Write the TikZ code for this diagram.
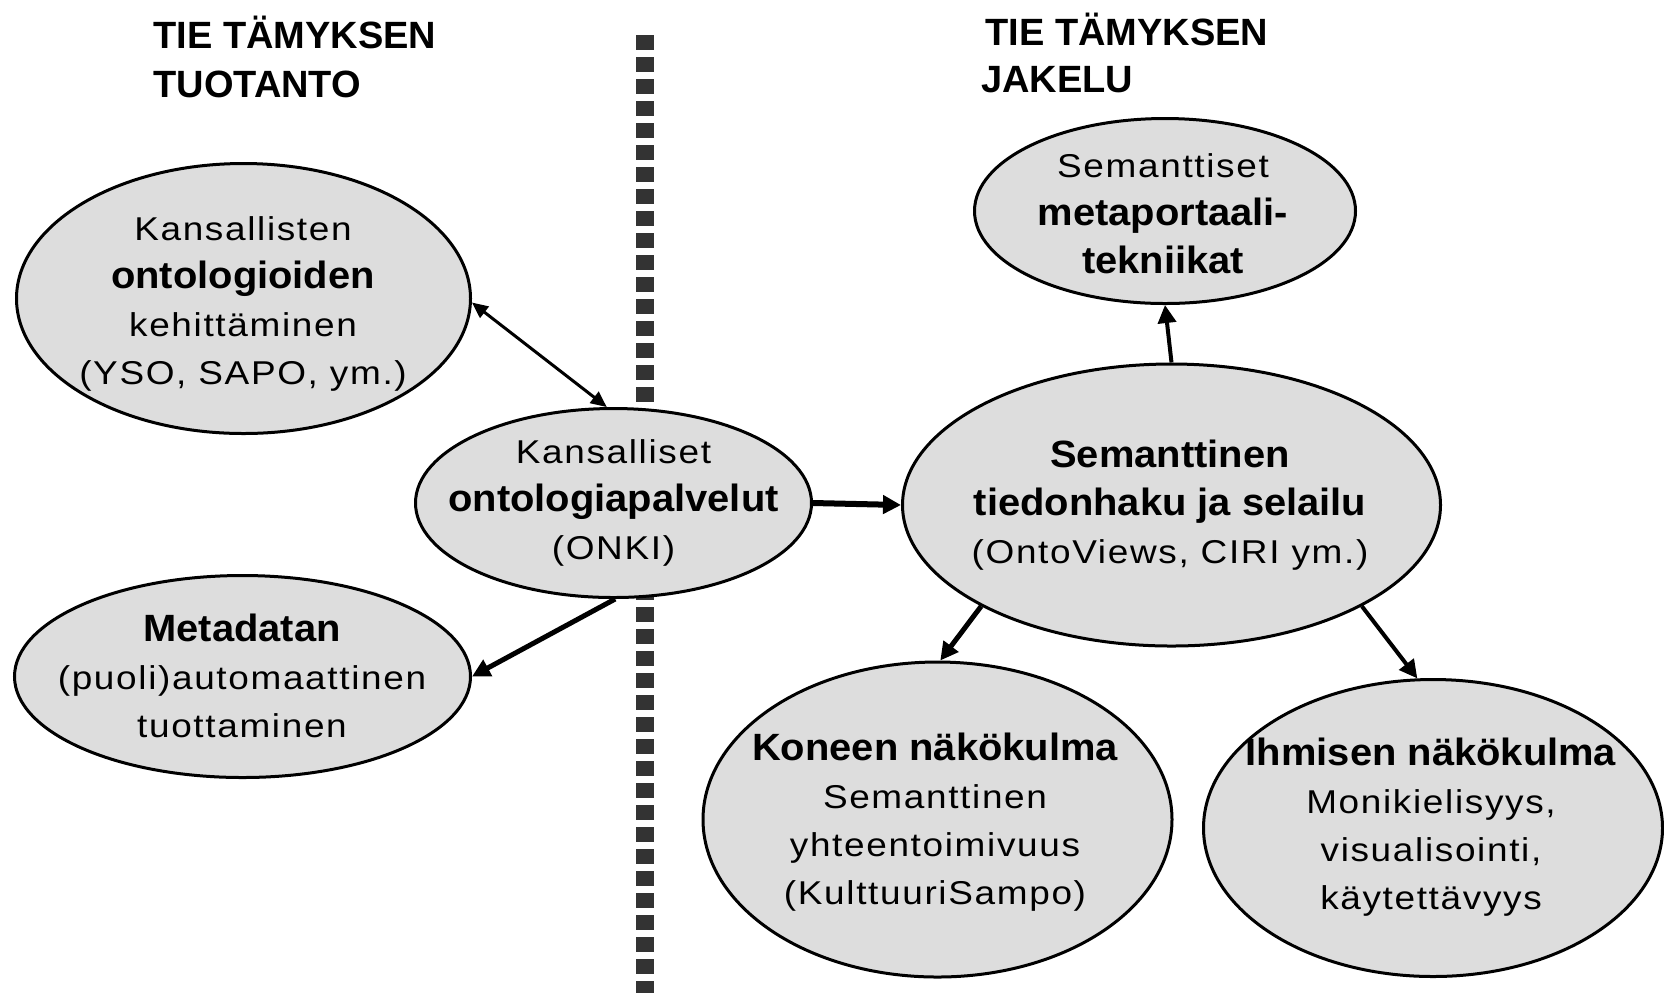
\documentclass[tikz,border=0pt]{standalone}
\usepackage{fontspec}
\usetikzlibrary{shapes.geometric,arrows.meta}
\setmainfont{Liberation Sans}
\newfontfamily\regf{Liberation Sans}[FakeStretch=1.12,LetterSpace=5]
\newfontfamily\boldf{Liberation Sans}[FakeStretch=1.05]
\newfontfamily\titlef{Liberation Sans}
\newcommand\bt{\boldf\bfseries\fontsize{19}{24}\selectfont}
\definecolor{ellfill}{RGB}{221,221,221}
\definecolor{dashgray}{RGB}{51,51,51}
\tikzset{
  ell/.style={ellipse, draw=black, line width=1.5pt, fill=ellfill, inner sep=0pt},
  txt/.style={align=center, inner sep=0pt, font=\regf\fontsize{16.5}{24}\selectfont},
  ttl/.style={anchor=base west, inner sep=0pt, font=\titlef\bfseries\fontsize{19}{24}\selectfont},
  divider/.style={draw=dashgray, line width=9pt, dash pattern=on 7.25pt off 3.75pt},
  thinboth/.style={line width=1.5pt, {Triangle[length=8pt,width=7pt]}-{Triangle[length=8pt,width=7pt]}},
  thickarrow/.style={line width=2.75pt, -{Triangle[length=9pt,width=9pt]}}
}
\begin{document}
\begin{tikzpicture}[x=0.5pt,y=-0.5pt]
\useasboundingbox (0,0) rectangle (1664,993);
% divider
\coordinate (divtop) at (645,35);
\coordinate (divbot) at (645,993);
\draw[divider] (divtop) -- (divbot);
% titles
\node[ttl] (tl1) at (153,48) {TIE TÄMYKSEN};
\node[ttl] (tl2) at (153,97) {TUOTANTO};
\node[ttl] (tr1) at (985,45) {TIE TÄMYKSEN};
\node[ttl] (tr2) at (981,92) {JAKELU};
% ellipses (sizes: diameter in px = value in pt * 2)
\node[ell, minimum width=227pt, minimum height=135pt] (kans) at (243.5,298.5) {};
\node[ell, minimum width=198pt, minimum height=94.5pt] (onki) at (613.5,503) {};
\node[ell, minimum width=228pt, minimum height=101pt] (meta) at (242.5,676.5) {};
\node[ell, minimum width=190.5pt, minimum height=92.5pt] (mp) at (1165,211) {};
\node[ell, minimum width=269pt, minimum height=141pt] (sem) at (1171.5,505) {};
\node[ell, minimum width=234.5pt, minimum height=157.5pt] (kon) at (937.5,819.5) {};
\node[ell, minimum width=229.5pt, minimum height=148.5pt] (ih) at (1433,828) {};
% texts
\node[txt] (kans-t) at (243,304) {Kansallisten\\{\bt ontologioiden}\\kehittäminen\\(YSO, SAPO, ym.)};
\node[txt] (onki-t) at (613.5,503) {Kansalliset\\{\bt ontologiapalvelut}\\(ONKI)};
\node[txt] (meta-t) at (242,676) {{\bt Metadatan}\\(puoli)automaattinen\\tuottaminen};
\node[txt] (mp-t) at (1163,213.5) {Semanttiset\\{\bt metaportaali-}\\{\bt tekniikat}};
\node[txt] (sem-t) at (1170,505) {{\bt Semanttinen}\\{\bt tiedonhaku ja selailu}\\(OntoViews, CIRI ym.)};
\node[txt] (kon-t) at (935,822.5) {{\bt Koneen näkökulma}\\Semanttinen\\yhteentoimivuus\\(KulttuuriSampo)};
\node[txt] (ih-t) at (1431,827.5) {{\bt Ihmisen näkökulma}\\Monikielisyys,\\visualisointi,\\käytettävyys};
% connectors
\draw[thinboth] (kans.-1) -- (onki.94);
\draw[thickarrow, line width=2.5pt] (onki.-89) -- (meta.east);
\draw[thickarrow, line width=3pt] (onki.east) -- (sem.west);
\draw[thickarrow, line width=2pt] (sem.north) -- (mp.south);
\draw[thickarrow, line width=2.5pt] (sem.-152.5) -- (kon.89);
\draw[thickarrow, line width=2pt] (sem.-28.85) -- (ih.96.8);
\end{tikzpicture}
\end{document}
